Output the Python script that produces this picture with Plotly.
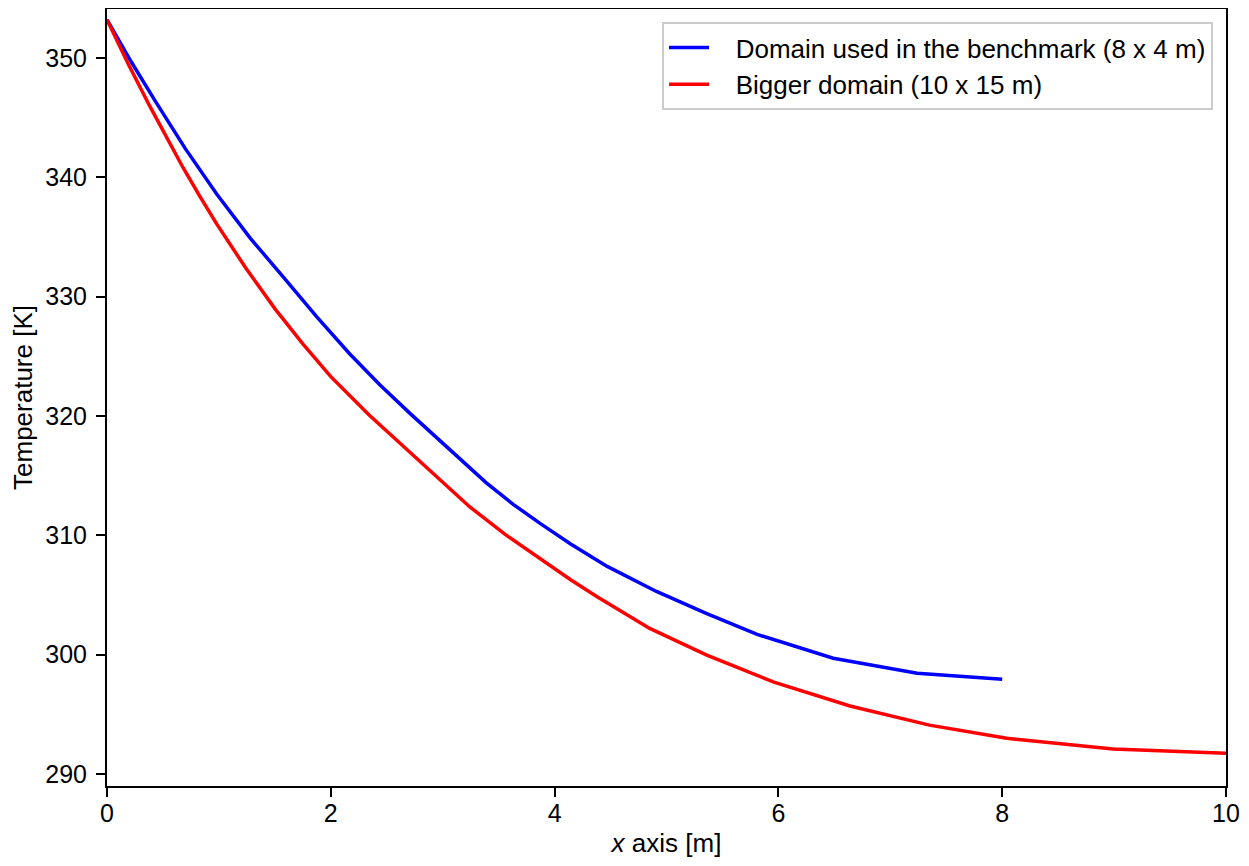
import plotly.graph_objects as go

# Domain used in the benchmark (8 x 4 m)
bench_x = [0, 0.215, 0.43, 0.70, 0.98, 1.28, 1.58, 1.875, 2.17, 2.44, 2.71, 3.07, 3.39, 3.63, 3.87,
           4.14, 4.47, 4.91, 5.36, 5.81, 6.49, 7.24, 8.0]
bench_T = [353.2, 349.7, 346.4, 342.4, 338.6, 334.9, 331.6, 328.3, 325.2, 322.6, 320.2, 317.1, 314.4, 312.6, 311.0,
           309.3, 307.4, 305.3, 303.45, 301.7, 299.7, 298.45, 297.95]

# Bigger domain (10 x 15 m)
big_x = [0, 0.19, 0.38, 0.53, 0.68, 0.83, 0.98, 1.24, 1.5, 1.75, 2.0, 2.34, 2.68, 2.96, 3.24, 3.555, 3.87,
         4.14, 4.38, 4.85, 5.36, 5.96, 6.64, 7.35, 8.04, 8.99, 10.0]
big_T = [353.2, 349.5, 346.0, 343.35, 340.8, 338.4, 336.1, 332.4, 329.0, 326.05, 323.3, 320.1, 317.2, 314.85, 312.4, 310.1, 308.05,
         306.3, 304.85, 302.2, 299.96, 297.7, 295.7, 294.1, 293.0, 292.1, 291.75]

x_ticks = [0, 2, 4, 6, 8, 10]
y_ticks = [290, 300, 310, 320, 330, 340, 350]

FONT = "Liberation Sans, Arial, sans-serif"
NB = "\u00a0"

fig = go.Figure()
fig.add_trace(go.Scatter(x=bench_x, y=bench_T, mode="lines",
                         name=NB * 3 + "Domain used in the benchmark (8 x 4 m)",
                         line=dict(color="#0000ff", width=3.5)))
fig.add_trace(go.Scatter(x=big_x, y=big_T, mode="lines",
                         name=NB * 3 + "Bigger domain (10 x 15 m)",
                         line=dict(color="#ff0000", width=3.5)))

axis_common = dict(showgrid=False, zeroline=False, showline=True, linecolor="black",
                   linewidth=2, mirror=True, ticks="outside", ticklen=9, tickwidth=2,
                   tickcolor="black", tickfont=dict(family=FONT, size=25, color="black"))

fig.update_layout(
    width=1241, height=858,
    margin=dict(l=99, r=23, t=1, b=80, autoexpand=False),
    paper_bgcolor="white", plot_bgcolor="white",
    font=dict(family=FONT, size=26, color="black"),
    xaxis=dict(range=[0, 10], tickvals=x_ticks, ticklabelstandoff=-5,
               title=dict(text="<i>x</i> axis [m]", font=dict(family=FONT, size=26), standoff=8),
               **axis_common),
    yaxis=dict(range=[289.0, 354.1], tickvals=y_ticks, ticklabelstandoff=4,
               title=dict(text="Temperature [K]", font=dict(family=FONT, size=26), standoff=10),
               **axis_common),
    legend=dict(x=0.9884, y=0.9833, xanchor="right", yanchor="top",
                bgcolor="rgba(255,255,255,0.8)", bordercolor="#cccccc", borderwidth=2,
                font=dict(family=FONT, size=26, color="black"),
                tracegroupgap=0, itemwidth=40),
    showlegend=True,
)

fig.write_html("out.html")
